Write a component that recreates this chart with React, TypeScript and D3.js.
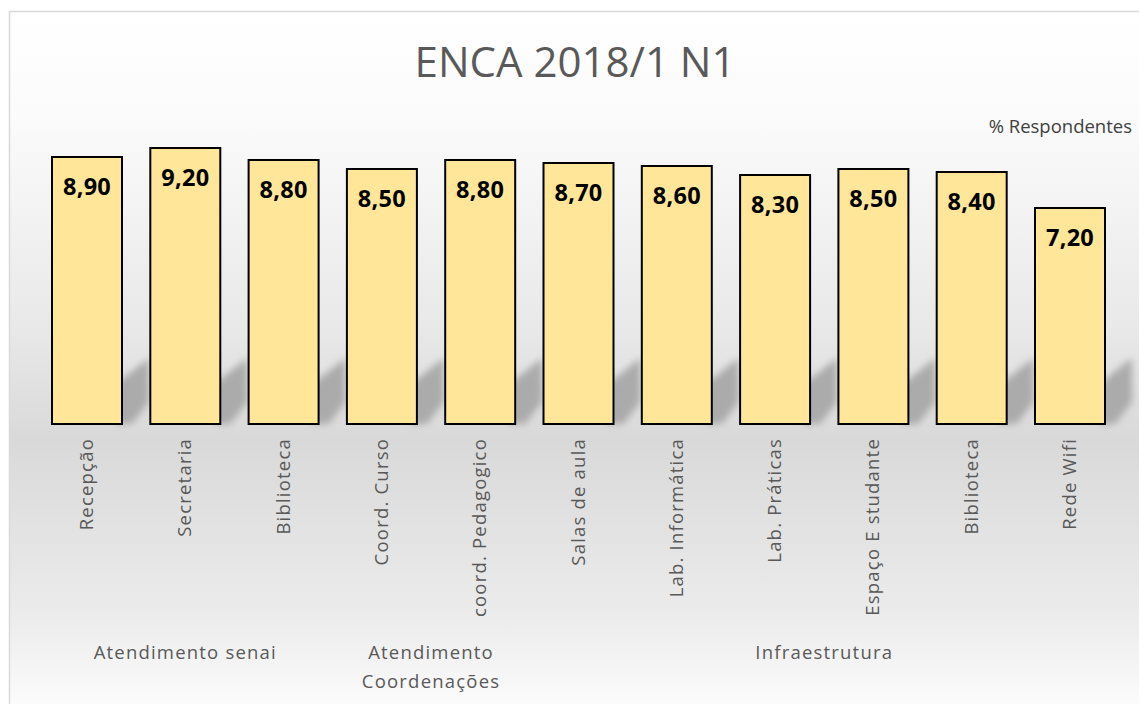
import React from "react";
import * as d3 from "d3";

const categories = [
  "Recepção",
  "Secretaria",
  "Biblioteca",
  "Coord. Curso",
  "coord. Pedagogico",
  "Salas de aula",
  "Lab. Informática",
  "Lab. Práticas",
  "Espaço E studante",
  "Biblioteca ",
  "Rede Wifi",
];
const values = [8.9, 9.2, 8.8, 8.5, 8.8, 8.7, 8.6, 8.3, 8.5, 8.4, 7.2];
const groups = [
  { lines: ["Atendimento senai"], from: 0, to: 2 },
  { lines: ["Atendimento", "Coordenações"], from: 3, to: 4 },
  { lines: ["Infraestrutura"], from: 5, to: 10 },
];
const title = "ENCA 2018/1 N1";
const unitLabel = "% Respondentes";

const W = 1139;
const H = 704;
const FONT = "'Open Sans', 'Segoe UI', sans-serif";

export default function App() {
  const x = d3
    .scaleBand<number>()
    .domain(d3.range(categories.length))
    .range([37.85, 1119.15])
    .paddingInner(0.288)
    .paddingOuter(0.144);
  const y = d3.scaleLinear().domain([0, 10]).range([424, 124]);
  const base = y(0);
  const bw = x.bandwidth();
  const fmt = (v: number) => d3.format(".2f")(v).replace(".", ",");

  return (
    <svg
      width={W}
      height={H}
      style={{ position: "absolute", left: 0, top: 0, display: "block" }}
      fontFamily={FONT}
    >
      <defs>
        <linearGradient id="bg" x1="0" y1="0" x2="0" y2="1">
          <stop offset="0" stopColor="#ffffff" />
          <stop offset="0.15" stopColor="#fbfbfb" />
          <stop offset="0.45" stopColor="#e8e8e8" />
          <stop offset="0.6" stopColor="#d9d9d9" />
          <stop offset="0.85" stopColor="#ececec" />
          <stop offset="1" stopColor="#ffffff" />
        </linearGradient>
        <filter id="blur" x="-50%" y="-50%" width="200%" height="200%">
          <feGaussianBlur stdDeviation="3.5" />
        </filter>
      </defs>
      <rect x={0} y={0} width={W} height={H} fill="#ffffff" />
      <rect
        x={9.5}
        y={11.5}
        width={W + 10}
        height={H + 10}
        fill="url(#bg)"
        stroke="#d9d9d9"
        strokeWidth={1.5}
      />
      <text x={575} y={77} textAnchor="middle" fontSize={42} fill="#595959">
        {title}
      </text>
      <text x={1132} y={133} textAnchor="end" fontSize={18.5} fill="#404040">
        {unitLabel}
      </text>

      <g filter="url(#blur)">
        {values.map((v, i) => {
          const x1 = (x(i) as number) + bw;
          const pts = [
            [x1 - 6, base],
            [x1 - 6, base - 40],
            [x1 + 27, base - 66],
            [x1 + 27, base - 22],
            [x1 + 10, base],
          ];
          return (
            <polygon
              key={"s" + i}
              points={pts.map((p) => p.join(",")).join(" ")}
              fill="#ababab"
            />
          );
        })}
      </g>

      {values.map((v, i) => (
        <rect
          key={"b" + i}
          x={x(i)}
          y={y(v)}
          width={bw}
          height={base - y(v)}
          fill="#FFE699"
          stroke="#000000"
          strokeWidth={2}
        />
      ))}
      {values.map((v, i) => (
        <text
          key={"v" + i}
          x={(x(i) as number) + bw / 2}
          y={y(v) + 38}
          textAnchor="middle"
          fontSize={23.5}
          fontWeight="bold"
          letterSpacing={0.3}
          fill="#000000"
        >
          {fmt(v)}
        </text>
      ))}
      {categories.map((c, i) => {
        const cx = (x(i) as number) + bw / 2 + 6;
        const cy = 438;
        return (
          <text
            key={"c" + i}
            transform={`translate(${cx},${cy}) rotate(-90)`}
            textAnchor="end"
            fontSize={18.5}
            letterSpacing={1.2}
            fill="#595959"
          >
            {c.trim()}
          </text>
        );
      })}
      {groups.map((g, gi) => {
        const cx = ((x(g.from) as number) + (x(g.to) as number) + bw) / 2;
        return (
          <text
            key={"g" + gi}
            x={cx}
            y={659}
            textAnchor="middle"
            fontSize={18.5}
            letterSpacing={1.2}
            fill="#595959"
          >
            {g.lines.map((l, li) => (
              <tspan key={li} x={cx} dy={li === 0 ? 0 : 29}>
                {l}
              </tspan>
            ))}
          </text>
        );
      })}
    </svg>
  );
}
